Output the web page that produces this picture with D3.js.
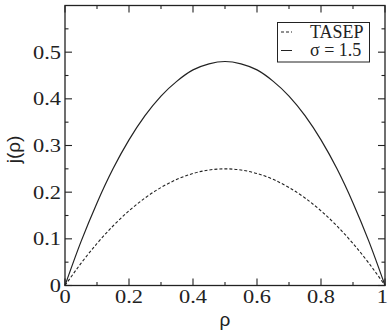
<!DOCTYPE html>
<html>
<head>
<meta charset="utf-8">
<script src="https://cdn.jsdelivr.net/npm/d3@7/dist/d3.min.js"></script>
<style>
  html, body { margin: 0; padding: 0; background: #fff; }
  svg { display: block; }
</style>
</head>
<body>
<svg id="chart" width="389" height="332"></svg>
<script>
// Density grid and current j(rho) for each model
const rho = [0, 0.05, 0.1, 0.15, 0.2, 0.25, 0.3, 0.35, 0.4, 0.45, 0.5,
             0.55, 0.6, 0.65, 0.7, 0.75, 0.8, 0.85, 0.9, 0.95, 1];
const tasep = [0, 0.0475, 0.09, 0.1275, 0.16, 0.1875, 0.21, 0.2275, 0.24, 0.2475, 0.25,
               0.2475, 0.24, 0.2275, 0.21, 0.1875, 0.16, 0.1275, 0.09, 0.0475, 0];
const sigma15 = [0, 0.094, 0.177, 0.250, 0.312, 0.364, 0.406, 0.438, 0.462, 0.475, 0.48,
                 0.475, 0.462, 0.438, 0.406, 0.364, 0.312, 0.250, 0.177, 0.094, 0];

const xTicks = [0, 0.2, 0.4, 0.6, 0.8, 1];
const xTickLabels = ["0", "0.2", "0.4", "0.6", "0.8", "1"];
const yTicks = [0, 0.1, 0.2, 0.3, 0.4, 0.5];
const yTickLabels = ["0", "0.1", "0.2", "0.3", "0.4", "0.5"];
const xMinor = [0.1, 0.3, 0.5, 0.7, 0.9];
const yMinor = [0.05, 0.15, 0.25, 0.35, 0.45, 0.55];

const legendItems = [
  { label: "TASEP", dash: "3,2" },
  { label: "\u03C3 = 1.5", dash: null }
];

const L = 65, R = 385, T = 5.5, B = 285.5;
const W = 389;
const x = d3.scaleLinear().domain([0, 1]).range([L, R]);
const y = d3.scaleLinear().domain([0, 0.6]).range([B, T]);

const svg = d3.select("#chart");
const ink = "#222";
const serif = "'Liberation Serif', 'Times New Roman', serif";
const sans = "'Liberation Sans', Arial, sans-serif";

// Frame
svg.append("rect")
  .attr("x", L).attr("y", T).attr("width", R - L).attr("height", B - T)
  .attr("fill", "none").attr("stroke", ink).attr("stroke-width", 1.3);

// Inward ticks on all four sides
const major = 7, minor = 3.5;
const tickG = svg.append("g").attr("stroke", ink).attr("stroke-width", 1.1);
function xt(vals, len) {
  vals.forEach(v => {
    tickG.append("line").attr("x1", x(v)).attr("x2", x(v)).attr("y1", B).attr("y2", B - len);
    tickG.append("line").attr("x1", x(v)).attr("x2", x(v)).attr("y1", T).attr("y2", T + len);
  });
}
function yt(vals, len) {
  vals.forEach(v => {
    tickG.append("line").attr("y1", y(v)).attr("y2", y(v)).attr("x1", L).attr("x2", L + len);
    tickG.append("line").attr("y1", y(v)).attr("y2", y(v)).attr("x1", R).attr("x2", R - len);
  });
}
xt(xTicks, major); xt(xMinor, minor);
yt(yTicks, major); yt(yMinor, minor);

// Tick labels (the last one is kept inside the right edge)
xTicks.forEach((v, i) => {
  const atEdge = x(v) + 6 > W;
  svg.append("text")
    .attr("transform", `translate(${atEdge ? W - 1 : x(v)},${B + 17}) scale(1.18,1)`)
    .attr("text-anchor", atEdge ? "end" : "middle")
    .attr("font-family", serif).attr("font-size", 19).attr("fill", ink)
    .text(xTickLabels[i]);
});
yTicks.forEach((v, i) => {
  svg.append("text")
    .attr("transform", `translate(${L - 4},${y(v) + 6.5}) scale(1.18,1)`)
    .attr("text-anchor", "end")
    .attr("font-family", serif).attr("font-size", 19).attr("fill", ink)
    .text(yTickLabels[i]);
});

// Axis titles
svg.append("text")
  .attr("x", (L + R) / 2).attr("y", 326)
  .attr("text-anchor", "middle")
  .attr("font-family", sans).attr("font-size", 19).attr("fill", ink)
  .text("\u03C1");
svg.append("text")
  .attr("transform", `translate(20,${(T + B) / 2 + 4}) rotate(-90)`)
  .attr("text-anchor", "middle")
  .attr("font-family", sans).attr("font-size", 19).attr("fill", ink)
  .text("j(\u03C1)");

// Curves
const line = d3.line()
  .x((d, i) => x(rho[i]))
  .y(d => y(d))
  .curve(d3.curveMonotoneX);

svg.append("path").datum(tasep)
  .attr("d", line).attr("fill", "none")
  .attr("stroke", ink).attr("stroke-width", 1.1).attr("stroke-dasharray", "3,2");
svg.append("path").datum(sigma15)
  .attr("d", line).attr("fill", "none")
  .attr("stroke", ink).attr("stroke-width", 1.2);

// Legend
const lg = svg.append("g");
lg.append("rect")
  .attr("x", 277.5).attr("y", 22.5).attr("width", 92).attr("height", 39.5)
  .attr("fill", "#fff").attr("stroke", ink).attr("stroke-width", 1);
legendItems.forEach((d, i) => {
  const yy = 32 + i * 18.5;
  lg.append("line")
    .attr("x1", 281).attr("x2", 292).attr("y1", yy).attr("y2", yy)
    .attr("stroke", ink).attr("stroke-width", 1)
    .attr("stroke-dasharray", d.dash);
  lg.append("text")
    .attr("x", 310).attr("y", yy + 5.5)
    .attr("font-family", serif).attr("font-size", 18).attr("fill", ink)
    .text(d.label);
});
</script>
</body>
</html>
